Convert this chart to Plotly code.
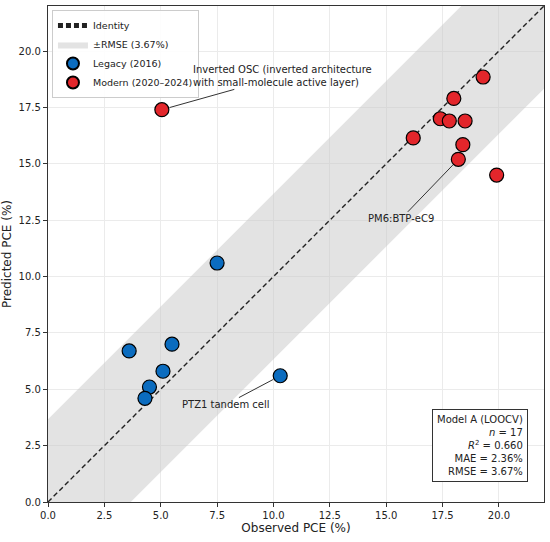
import plotly.graph_objects as go

# Legacy (2016) devices
legacy_obs = [7.5, 3.6, 5.5, 5.1, 4.5, 4.3, 10.3]
legacy_pred = [10.6, 6.7, 7.0, 5.8, 5.1, 4.6, 5.6]

# Modern (2020-2024) devices
modern_obs = [19.3, 18.0, 17.4, 17.8, 18.5, 16.2, 18.4, 18.2, 19.9, 5.05]
modern_pred = [18.85, 17.9, 17.0, 16.9, 16.9, 16.15, 15.85, 15.2, 14.5, 17.4]

rmse = 3.67
mae = 2.36
r2 = 0.660
n_points = 17
axis_max = 22.0
tick_vals = [0.0, 2.5, 5.0, 7.5, 10.0, 12.5, 15.0, 17.5, 20.0]

# (label, point x, point y, label x, label y)
callouts = [
    ("Inverted OSC (inverted architecture<br>with small-molecule active layer)",
     5.05, 17.4, 10.4, 18.9),
    ("PM6:BTP-eC9", 18.2, 15.2, 15.66, 12.56),
    ("PTZ1 tandem cell", 10.3, 5.6, 7.88, 4.32),
]

FONT = "DejaVu Sans"
BLUE = "#0b6cbf"
RED = "#e3262b"

fig = go.Figure()

# band first so the identity line sits on top of it
fig.add_trace(
    go.Scatter(
        x=[0, axis_max, axis_max, 0, 0],
        y=[rmse, axis_max + rmse, axis_max - rmse, -rmse, rmse],
        mode="lines",
        fill="toself",
        fillcolor="rgba(200,200,200,0.5)",
        line=dict(width=0, color="rgba(0,0,0,0)"),
        name=f"±RMSE ({rmse:.2f}%)",
        legendrank=2,
    )
)
fig.add_trace(
    go.Scatter(
        x=[0, axis_max],
        y=[0, axis_max],
        mode="lines",
        name="Identity",
        line=dict(color="#222222", width=1.4, dash="5px,3px"),
        legendrank=1,
    )
)
fig.add_trace(
    go.Scatter(
        x=legacy_obs,
        y=legacy_pred,
        mode="markers",
        name="Legacy (2016)",
        marker=dict(size=14, color=BLUE, line=dict(color="black", width=1.2)),
        legendrank=3,
    )
)
fig.add_trace(
    go.Scatter(
        x=modern_obs,
        y=modern_pred,
        mode="markers",
        name="Modern (2020–2024)",
        marker=dict(size=14, color=RED, line=dict(color="black", width=1.2)),
        legendrank=4,
    )
)

for label, px, py, lx, ly in callouts:
    fig.add_annotation(
        x=px, y=py, ax=lx, ay=ly, xref="x", yref="y", axref="x", ayref="y",
        text=label, align="left", showarrow=True, arrowhead=0,
        arrowwidth=1, arrowcolor="#333333", standoff=8,
        font=dict(family=FONT, size=10, color="#222222"),
    )

stats = (
    "Model A (LOOCV)<br>"
    f"<i>n</i> = {n_points}<br>"
    f"<i>R</i><sup>2</sup> = {r2:.3f}<br>"
    f"MAE = {mae:.2f}%<br>"
    f"RMSE = {rmse:.2f}%"
)
fig.add_annotation(
    x=0.968, y=0.04, xref="paper", yref="paper", xanchor="right", yanchor="bottom",
    text=stats, align="right", showarrow=False,
    bordercolor="#333333", borderwidth=1, borderpad=4, bgcolor="white",
    font=dict(family=FONT, size=10, color="#222222"),
)

axis_common = dict(
    range=[0, axis_max],
    tickvals=tick_vals,
    tickformat=".1f",
    showgrid=True,
    gridcolor="#ebebeb",
    gridwidth=1,
    zeroline=False,
    showline=True,
    linecolor="#333333",
    linewidth=1.3,
    mirror=True,
    ticks="outside",
    ticklen=4,
    tickcolor="#333333",
    automargin=False,
    tickfont=dict(family=FONT, size=10, color="#222222"),
)

fig.update_layout(
    width=550,
    height=542,
    margin=dict(l=48, r=6, t=6, b=40),
    plot_bgcolor="white",
    paper_bgcolor="white",
    font=dict(family=FONT, color="#222222"),
    xaxis=dict(
        **axis_common,
        title=dict(text="Observed PCE (%)", font=dict(family=FONT, size=12), standoff=2),
    ),
    yaxis=dict(
        **axis_common,
        title=dict(text="Predicted PCE (%)", font=dict(family=FONT, size=12), standoff=6),
    ),
    legend=dict(
        x=0.008, y=0.992, xanchor="left", yanchor="top",
        bgcolor="rgba(255,255,255,0.9)", bordercolor="#cccccc", borderwidth=1,
        font=dict(family=FONT, size=9.5, color="#222222"),
        itemsizing="constant", tracegroupgap=0, itemwidth=30,
    ),
)

fig.write_html(
    "out.html",
    config={"displayModeBar": False},
    post_script="document.body.style.margin='0px';",
)
